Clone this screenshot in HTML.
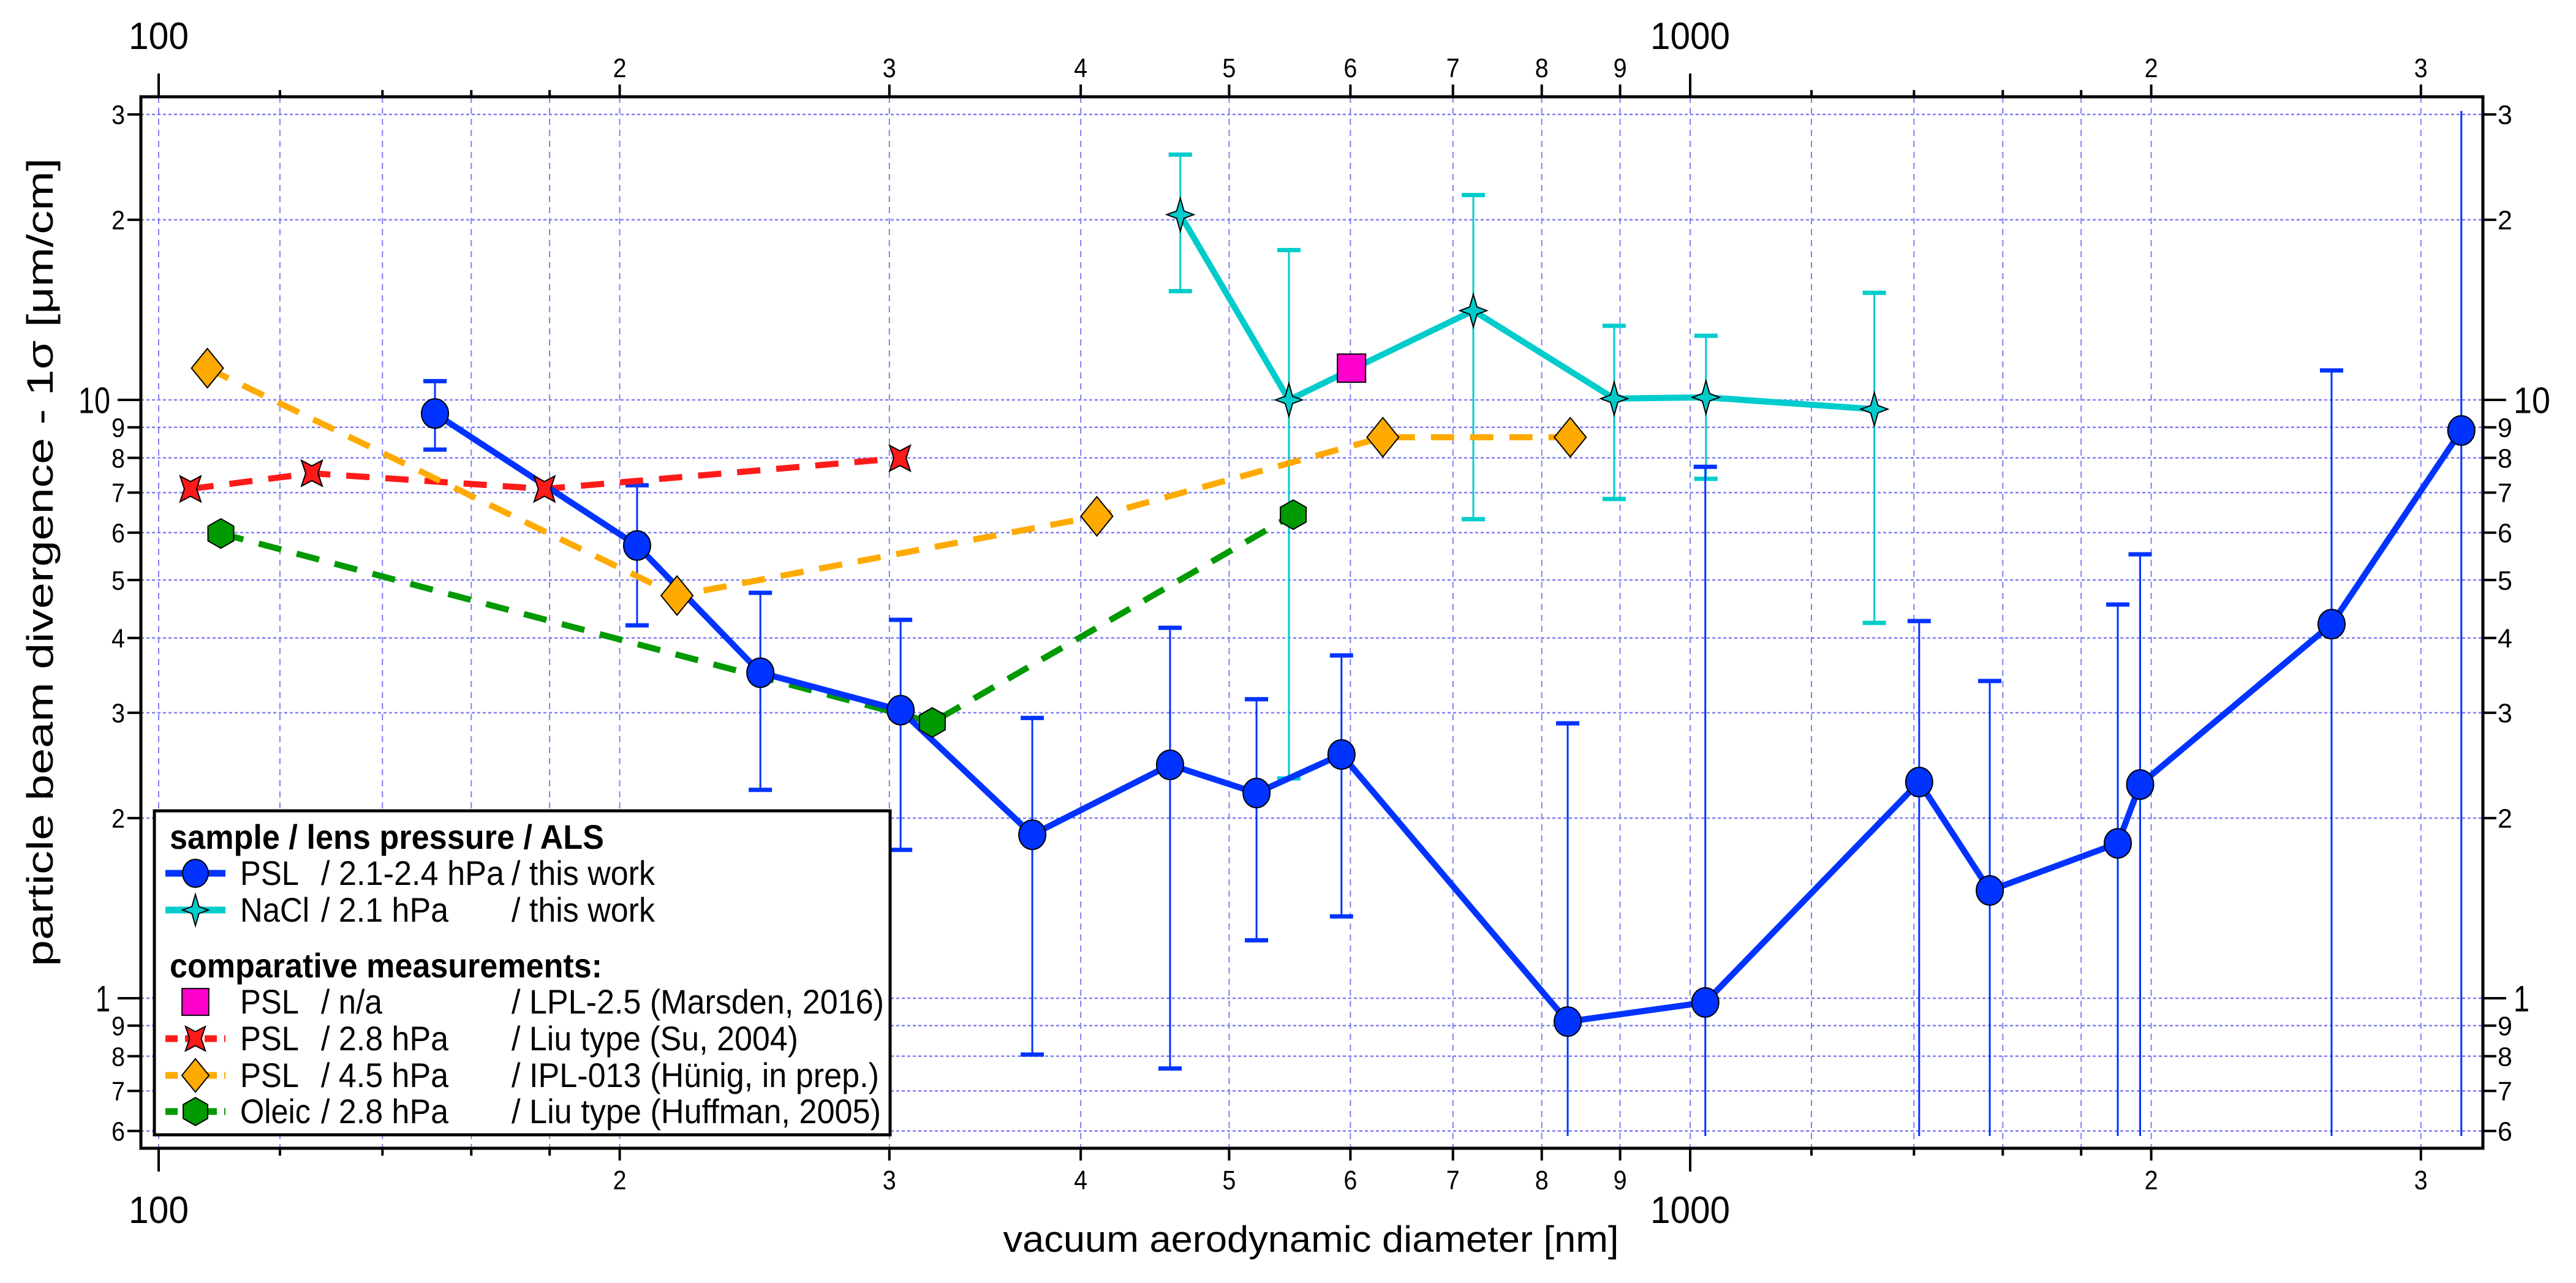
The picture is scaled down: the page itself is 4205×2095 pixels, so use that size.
<!DOCTYPE html>
<html><head><meta charset="utf-8"><style>
html,body{margin:0;padding:0;background:#fff;}
svg{display:block;}
text{font-family:"Liberation Sans",sans-serif;fill:#000;}
</style></head><body>
<svg id="chart" width="4205" height="2095" viewBox="0 0 4205 2095" xmlns="http://www.w3.org/2000/svg"></svg>
<script>
// ---- data ----
const pslX=[151.5,205.3,247.1,305.1,371.9,457.5,521,592,831.8,1023,1411,1569,1902,1967,2623,3188];
const pslY=[9.49,5.71,3.50,3.03,1.876,2.455,2.203,2.555,0.914,0.984,2.298,1.514,1.815,2.276,4.22,8.89];
const pslHi=[10.75,7.2,4.76,4.29,2.94,4.16,3.16,3.74,2.88,7.73,4.27,3.39,4.55,5.52,11.2,30.4];
const pslLo=[8.26,4.2,2.23,1.77,0.805,0.763,1.25,1.37,0,0,0,0,0,0,0,0];
const naclX=[464.6,547,721.8,892,1024,1319];
const naclY=[20.4,10.0,14.1,10.05,10.1,9.65];
const naclHi=[25.7,17.8,22.0,13.3,12.8,15.1];
const naclLo=[15.2,2.33,6.32,6.83,7.38,4.24];
const marsX=[601];
const marsY=[11.3];
const suX=[104.9,125.9,178.6,304.8];
const suY=[7.10,7.54,7.10,7.99];
const hunX=[107.6,218,409.8,630,835];
const hunY=[11.3,4.71,6.39,8.66,8.66];
const hufX=[109.8,320,550.6];
const hufY=[5.98,2.89,6.43];
const yTickVals=[30,20,10,9,8,7,6,5,4,3,2,1,0.9,0.8,0.7,0.6];
const yTickLabels=["3","2","10","9","8","7","6","5","4","3","2","1","9","8","7","6"];
const xLabVals=[200,300,400,500,600,700,800,900,2000,3000];
const xLabTexts=["2","3","4","5","6","7","8","9","2","3"];
const xMajVals=[100,1000];
const xMajTexts=["100","1000"];
const xMinVals=[120,140,160,180,1200,1400,1600,1800];

// ---- axes ----
const L=230,R=4053,T=158,B=1875;
const X=v=>259+2500*Math.log10(v/100);
const Y=v=>653-977*Math.log10(v/10);
const FLOOR=1855;
const NS="http://www.w3.org/2000/svg";
const svg=document.getElementById('chart');
function mk(tag,a,parent){const e=document.createElementNS(NS,tag);for(const k in a)e.setAttribute(k,a[k]);(parent||svg).appendChild(e);return e;}
function grp(name){const g=mk('g',{});


return g;}

// grid
const gGrid=grp('grid');
const gridC='#7f7ff5';
[...xMajVals,...xLabVals,...xMinVals].forEach(v=>{const l=mk('line',{x1:X(v),x2:X(v),y1:T,y2:B,stroke:gridC,'stroke-width':2,'stroke-dasharray':'10 8'},gGrid);

});
yTickVals.forEach(v=>{const l=mk('line',{x1:L,x2:R,y1:Y(v),y2:Y(v),stroke:gridC,'stroke-width':2.5,'stroke-dasharray':'5 4'},gGrid);

});

// error bars
function errbars(xs,ys,hi,lo,color,name){const g=grp(name);
xs.forEach((xv,i)=>{const x=X(xv);let yt=Y(hi[i]);let capT=true;if(hi[i]>30){yt=Math.max(yt,T+20);capT=false;}
let yb=lo[i]>0?Y(lo[i]):FLOOR;let capB=lo[i]>0;
const l=mk('line',{x1:x,x2:x,y1:yt,y2:yb,stroke:color,'stroke-width':3},g);


if(capT){const c=mk('line',{x1:x-19,x2:x+19,y1:yt,y2:yt,stroke:color,'stroke-width':7},g);

}
if(capB){const c=mk('line',{x1:x-19,x2:x+19,y1:yb,y2:yb,stroke:color,'stroke-width':7},g);

}
});}
errbars(naclX,naclY,naclHi,naclLo,'#00cccc','nacl-error-bars');
errbars(pslX,pslY,pslHi,pslLo,'#0033ff','psl-error-bars');

// lines
function series(xs,ys,color,dash,name){const p=mk('polyline',{points:xs.map((x,i)=>X(x)+','+Y(ys[i])).join(' '),fill:'none',stroke:color,'stroke-width':10,'stroke-dasharray':dash||'none'});

}
series(suX,suY,'#ff1a1a','38 26','su-2004-line');
series(hunX,hunY,'#ffaa00','38 26','hunig-line');
series(hufX,hufY,'#009900','38 26','huffman-2005-line');
series(naclX,naclY,'#00cccc',null,'nacl-line');
series(pslX,pslY,'#0033ff',null,'psl-line');

// markers
function marker(type,cx,cy,parent,s){s=s||1;const st={stroke:'#000','stroke-width':2};let e;
if(type==='circle')e=mk('ellipse',Object.assign({cx,cy,rx:22*s,ry:24*s,fill:'#0033ff'},st),parent);
if(type==='star'){const o=27*s,w=22*s,i=6*s;e=mk('path',Object.assign({d:`M${cx},${cy-o} L${cx+i},${cy-i} L${cx+w},${cy} L${cx+i},${cy+i} L${cx},${cy+o} L${cx-i},${cy+i} L${cx-w},${cy} L${cx-i},${cy-i}Z`,fill:'#00cccc'},st),parent);}
if(type==='square')e=mk('rect',Object.assign({x:cx-23*s,y:cy-23*s,width:46*s,height:46*s,fill:'#ff00cc'},st),parent);
if(type==='diamond'){const w=26*s,h=32*s;e=mk('path',Object.assign({d:`M${cx},${cy-h} L${cx+w},${cy} L${cx},${cy+h} L${cx-w},${cy}Z`,fill:'#ffaa00'},st),parent);}
if(type==='rstar'){const w=17*s,h=21*s,iw=7*s,ih=9*s;e=mk('path',Object.assign({d:`M${cx-w},${cy-h} L${cx},${cy-h+ih} L${cx+w},${cy-h} L${cx+w-iw},${cy} L${cx+w},${cy+h} L${cx},${cy+h-ih} L${cx-w},${cy+h} L${cx-w+iw},${cy}Z`,fill:'#ff1a1a'},st),parent);}
if(type==='hex'){const w=21*s,h=24*s;e=mk('path',Object.assign({d:`M${cx},${cy-h} L${cx+w},${cy-h/2} L${cx+w},${cy+h/2} L${cx},${cy+h} L${cx-w},${cy+h/2} L${cx-w},${cy-h/2}Z`,fill:'#009900'},st),parent);}
return e;}
function points(xs,ys,type,name){const g=grp(name);xs.forEach((x,i)=>{const m=marker(type,X(x),Y(ys[i]),g);

});}
points(suX,suY,'rstar','su-2004-markers');
points(hunX,hunY,'diamond','hunig-markers');
points(hufX,hufY,'hex','huffman-2005-markers');
points(naclX,naclY,'star','nacl-markers');
points(marsX,marsY,'square','marsden-2016-markers');
points(pslX,pslY,'circle','psl-markers');

// frame & ticks
const gAx=grp('axes');
const fr=mk('rect',{x:L,y:T,width:R-L,height:B-T,fill:'none',stroke:'#000','stroke-width':5},gAx);


function txt(s,x,y,size,anchor,extra,parent){const t=mk('text',Object.assign({x,y,'font-size':size,'text-anchor':anchor||'middle'},extra||{}),parent||gAx);t.textContent=s;return t;}
function tick(x1,y1,x2,y2){const l=mk('line',{x1,y1,x2,y2,stroke:'#000','stroke-width':4},gAx);

}
xMajVals.forEach((v,i)=>{const x=X(v);tick(x,T,x,T-38);tick(x,B,x,B+38);
const t1=txt(xMajTexts[i],x,80,62,'middle',{textLength:v<1000?98:130,lengthAdjust:'spacingAndGlyphs'});


const t2=txt(xMajTexts[i],x,1997,62,'middle',{textLength:v<1000?98:130,lengthAdjust:'spacingAndGlyphs'});

});
xLabVals.forEach((v,i)=>{const x=X(v);tick(x,T,x,T-20);tick(x,B,x,B+20);
const t1=txt(xLabTexts[i],x,126,44,'middle',{textLength:22,lengthAdjust:'spacingAndGlyphs'});


const t2=txt(xLabTexts[i],x,1942,44,'middle',{textLength:22,lengthAdjust:'spacingAndGlyphs'});

});
xMinVals.forEach(v=>{const x=X(v);tick(x,T,x,T-11);tick(x,B,x,B+12);});
yTickVals.forEach((v,i)=>{const y=Y(v);const maj=(v===10||v===1);const len=maj?38:22;
tick(L,y,L-len,y);tick(R,y,R+len,y);
const sz=maj?60:44;
const t1=txt(yTickLabels[i],maj?180:204,y+sz*0.36,sz,'end',{textLength:maj?(v===10?52:24):22,lengthAdjust:'spacingAndGlyphs'});


const t2=txt(yTickLabels[i],maj?R+50:R+24,y+sz*0.36,sz,'start',{textLength:maj?(v===10?60:26):24,lengthAdjust:'spacingAndGlyphs'});

});
const xt=txt('vacuum aerodynamic diameter [nm]',2140,2044,60,'middle',{textLength:1005,lengthAdjust:'spacingAndGlyphs'});


const yt=txt('particle beam divergence - 1σ [μm/cm]',0,0,60,'middle',{transform:'translate(86,918) rotate(-90)',textLength:1320,lengthAdjust:'spacingAndGlyphs'});



// legend
const gL=grp('legend');
const lb=mk('rect',{x:252,y:1324,width:1201,height:529,fill:'#fff',stroke:'#000','stroke-width':5},gL);


function lt(s,x,y,w,bold){const t=mk('text',{x,y,'font-size':56,'font-weight':bold?'bold':'normal',textLength:w,lengthAdjust:'spacingAndGlyphs'},gL);t.textContent=s;


return t;}
lt('sample / lens pressure / ALS',277,1386,709,true);
lt('comparative measurements:',277,1596,706,true);
const rows=[
 {y:1426,type:'circle',col:'#0033ff',dash:null,a:'PSL',aw:96,b:'/ 2.1-2.4 hPa',bw:299,c:'/ this work',cw:234},
 {y:1486,type:'star',col:'#00cccc',dash:null,a:'NaCl',aw:113,b:'/ 2.1 hPa',bw:208,c:'/ this work',cw:234},
 {y:1636,type:'square',col:null,dash:null,a:'PSL',aw:96,b:'/ n/a',bw:100,c:'/ LPL-2.5 (Marsden, 2016)',cw:608},
 {y:1696,type:'rstar',col:'#ff1a1a',dash:'38 26',a:'PSL',aw:96,b:'/ 2.8 hPa',bw:208,c:'/ Liu type (Su, 2004)',cw:468},
 {y:1756,type:'diamond',col:'#ffaa00',dash:'38 26',a:'PSL',aw:96,b:'/ 4.5 hPa',bw:208,c:'/ IPL-013 (Hünig, in prep.)',cw:600},
 {y:1815,type:'hex',col:'#009900',dash:'38 26',a:'Oleic',aw:115,b:'/ 2.8 hPa',bw:208,c:'/ Liu type (Huffman, 2005)',cw:603}];
rows.forEach(r=>{
 if(r.col){const l=mk('line',{x1:270,x2:368,y1:r.y,y2:r.y,stroke:r.col,'stroke-width':11,'stroke-dasharray':r.dash?'20 12':'none'},gL);
 
 }
 const m=marker(r.type,319,r.y,gL,r.type==='diamond'?0.85:0.95);
 
 
 const by=r.y+19;
 lt(r.a,392,by,r.aw);lt(r.b,524,by,r.bw);lt(r.c,835,by,r.cw);
});
</script>
</body></html>
